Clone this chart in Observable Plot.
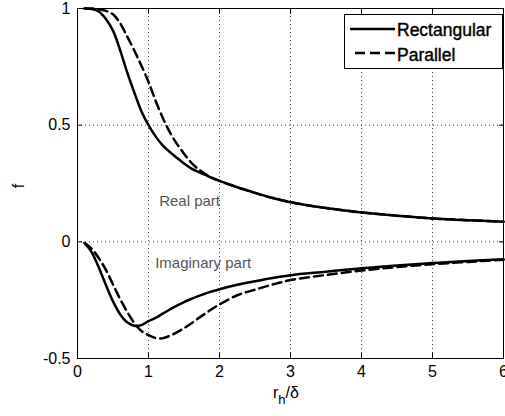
<!DOCTYPE html>
<html><head><meta charset="utf-8">
<script src="https://cdn.jsdelivr.net/npm/d3@7"></script>
<script src="https://cdn.jsdelivr.net/npm/@observablehq/plot@0.6"></script>
<style>
html,body{margin:0;padding:0;background:#fff;}
#chart{width:505px;height:416px;overflow:hidden;}
</style></head><body><div id="chart"></div>
<script>
// r_h/delta sample positions shared by all four curves
const xs = [0.1,0.2,0.3,0.4,0.5,0.6,0.7,0.8,0.9,1.0,1.1,1.2,1.3,1.4,1.5,1.6,1.7,1.8,1.9,2.0,2.25,2.5,2.75,3.0,3.5,4.0,4.5,5.0,5.5,6.0];
const realRect = [1.0,0.998,0.987,0.955,0.905,0.822,0.726,0.64,0.56,0.50,0.452,0.413,0.385,0.36,0.336,0.315,0.3,0.287,0.273,0.261,0.234,0.21,0.188,0.17,0.145,0.126,0.112,0.10,0.093,0.086];
const realPar = [1.0,1.0,0.997,0.99,0.975,0.937,0.88,0.82,0.755,0.685,0.605,0.532,0.47,0.42,0.378,0.34,0.312,0.29,0.274,0.261,0.234,0.21,0.188,0.17,0.145,0.126,0.112,0.10,0.093,0.086];
const imagRect = [-0.005,-0.045,-0.11,-0.185,-0.255,-0.31,-0.345,-0.36,-0.357,-0.34,-0.326,-0.308,-0.29,-0.273,-0.258,-0.245,-0.233,-0.222,-0.212,-0.203,-0.184,-0.169,-0.155,-0.143,-0.128,-0.113,-0.101,-0.091,-0.082,-0.075];
const imagPar = [-0.005,-0.03,-0.07,-0.12,-0.183,-0.245,-0.30,-0.348,-0.382,-0.40,-0.412,-0.413,-0.403,-0.388,-0.37,-0.35,-0.328,-0.307,-0.287,-0.268,-0.229,-0.205,-0.183,-0.164,-0.142,-0.123,-0.108,-0.096,-0.086,-0.077];
const seriesNames = ["Rectangular", "Parallel"];
const xTicks = [0,1,2,3,4,5,6];
const yTicks = [-0.5,0,0.5,1];
const annotationLabels = ["Real part", "Imaginary part"];
const annotationX = [1.15, 1.094];
const annotationY = [0.154, -0.111];

const rows = [];
const add = (vals, shape, part) => xs.forEach((x, i) => rows.push({x, f: vals[i], shape, part}));
add(realRect, seriesNames[0], "real");
add(imagRect, seriesNames[0], "imag");
add(realPar, seriesNames[1], "real");
add(imagPar, seriesNames[1], "imag");
const annotations = annotationLabels.map((label, i) => ({label, x: annotationX[i], y: annotationY[i]}));

const FONT = "'Liberation Sans', Arial, Helvetica, sans-serif";
const fmt = d => String(d);

const plot = Plot.plot({
  width: 505,
  height: 416,
  marginLeft: 77,
  marginRight: 2,
  marginTop: 8,
  marginBottom: 58,
  style: {fontFamily: FONT, fontSize: "16px", background: "#fff", color: "#000"},
  x: {domain: [0, 6]},
  y: {domain: [-0.5, 1]},
  marks: [
    Plot.gridX(xTicks, {stroke: "#444", strokeOpacity: 1, strokeDasharray: "1,3"}),
    Plot.gridY(yTicks, {stroke: "#444", strokeOpacity: 1, strokeDasharray: "1,3"}),
    Plot.line(rows.filter(d => d.shape === seriesNames[0]), {x: "x", y: "f", z: "part", stroke: "#000", strokeWidth: 2.5, curve: "catmull-rom"}),
    Plot.line(rows.filter(d => d.shape === seriesNames[1]), {x: "x", y: "f", z: "part", stroke: "#000", strokeWidth: 2.5, strokeDasharray: "9,5", curve: "catmull-rom"}),
    Plot.text(annotations, {x: "x", y: "y", text: "label", textAnchor: "start", lineAnchor: "bottom", fill: "#555", fontSize: 15}),
    Plot.frame({stroke: "#000", strokeWidth: 1}),
    Plot.axisX(xTicks, {anchor: "bottom", tickSize: 0, tickPadding: 7, tickFormat: fmt, label: null, fontSize: 16, stroke: "#000", strokeWidth: 0.4}),
    Plot.axisX(xTicks, {anchor: "bottom", tickSize: 5, dy: -5, fill: "none", label: null}),
    Plot.axisX(xTicks, {anchor: "top", tickSize: 5, dy: 5, fill: "none", label: null}),
    Plot.axisY(yTicks, {anchor: "left", tickSize: 0, tickPadding: 7, tickFormat: fmt, label: null, fontSize: 16, stroke: "#000", strokeWidth: 0.4}),
    Plot.axisY(yTicks, {anchor: "left", tickSize: 5, dx: 5, fill: "none", label: null}),
    Plot.axisY(yTicks, {anchor: "right", tickSize: 5, dx: -5, fill: "none", label: null})
  ]
});

const svg = d3.select(plot);
// axis titles
const xl = svg.append("text").attr("x", 273).attr("y", 398).attr("text-anchor", "start")
  .attr("font-family", FONT).attr("font-size", 16).attr("fill", "#000");
xl.append("tspan").text("r");
xl.append("tspan").attr("dy", 6).attr("font-size", 13).text("h");
xl.append("tspan").attr("dy", -6).text("/δ");
svg.append("text").attr("transform", "translate(24,186) rotate(-90)")
  .attr("text-anchor", "middle").attr("font-family", FONT).attr("font-size", 16).attr("fill", "#000").text("f");

// legend
const lg = svg.append("g");
lg.append("rect").attr("x", 344.5).attr("y", 14.5).attr("width", 158).attr("height", 54)
  .attr("fill", "#fff").attr("stroke", "#000").attr("stroke-width", 1);
const legendDash = [null, "10,5"];
const legendLineY = [29, 53];
const legendTextY = [36, 61];
seriesNames.forEach((name, i) => {
  lg.append("line").attr("x1", i ? 355 : 350).attr("x2", 395).attr("y1", legendLineY[i]).attr("y2", legendLineY[i])
    .attr("stroke", "#000").attr("stroke-width", 2.5).attr("stroke-dasharray", legendDash[i]);
  lg.append("text").attr("x", 397).attr("y", legendTextY[i]).attr("text-anchor", "start").attr("font-family", FONT)
    .attr("font-size", 17.5).attr("fill", "#000").attr("stroke", "#000").attr("stroke-width", 0.4).text(name);
});

document.getElementById("chart").appendChild(plot);
</script>
</body></html>
